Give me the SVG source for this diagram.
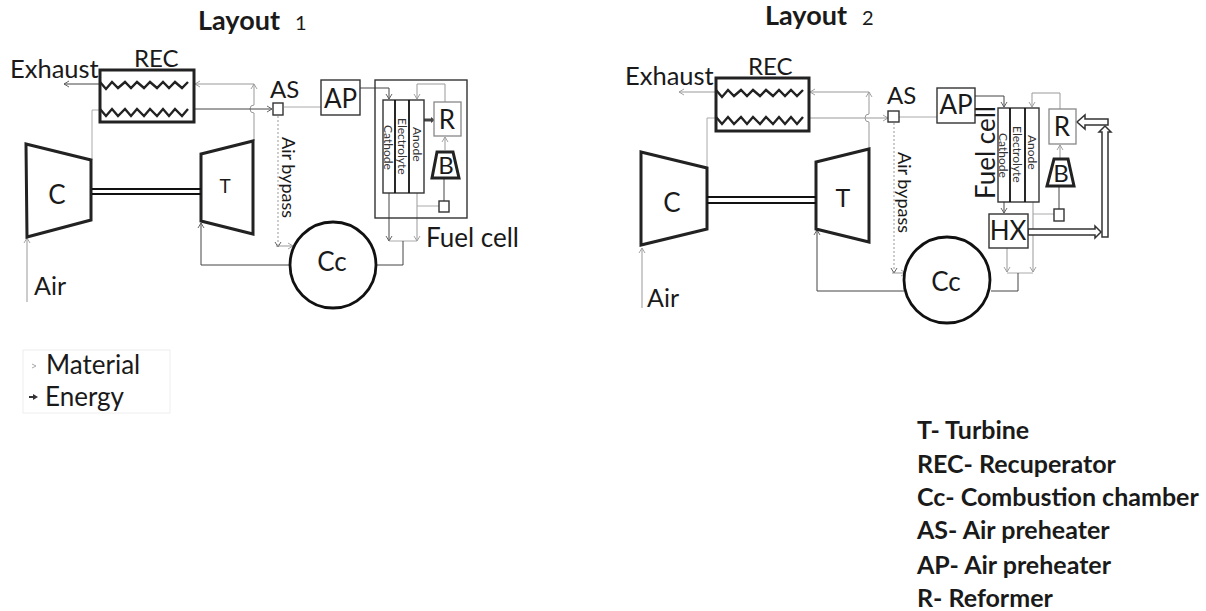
<svg xmlns="http://www.w3.org/2000/svg" width="1206" height="611" viewBox="0 0 1206 611">
<defs>
<marker id="a" markerUnits="userSpaceOnUse" markerWidth="8" markerHeight="8" refX="6" refY="4" orient="auto"><path d="M1 1L6 4L1 7" fill="none" stroke="#555" stroke-width="0.9"/></marker>
<marker id="g" markerUnits="userSpaceOnUse" markerWidth="8" markerHeight="8" refX="6" refY="4" orient="auto"><path d="M1 1L6 4L1 7" fill="none" stroke="#999" stroke-width="0.9"/></marker>
</defs>
<style>
text{font-family:Lato,"Open Sans","Liberation Sans",sans-serif;fill:#1a1a1a}
.b{font-weight:700}
.box{fill:#fff;stroke:#222;stroke-width:3}
.thin{fill:#fff;stroke:#333;stroke-width:1.4}
.lg{fill:#fff;stroke:#888;stroke-width:1.3}
.zig{fill:none;stroke:#222;stroke-width:2.4;stroke-linejoin:miter}
.m{fill:none;stroke:#444;stroke-width:1;marker-end:url(#a)}
.mg{fill:none;stroke:#999;stroke-width:1;marker-end:url(#g)}
.l{fill:none;stroke:#444;stroke-width:1}
.lgl{fill:none;stroke:#aaa;stroke-width:1}
.d{fill:none;stroke:#999;stroke-width:1;stroke-dasharray:2 2;marker-end:url(#a)}
.s{stroke:#111;stroke-width:1.8}
.e{fill:#fff;stroke:#333;stroke-width:1.5}
.ml{font-size:12px;fill:#333}
</style>
<rect width="1206" height="611" fill="#fff"/>

<text class="b" x="198" y="30" font-size="27">Layout</text><text x="295" y="30" font-size="20">1</text>
<text class="b" x="765" y="25" font-size="27">Layout</text><text x="862" y="25" font-size="20">2</text>

<g id="connectors">
<path class="m" d="M100 84H64"/>
<path class="mg" d="M254 84H195"/>
<path class="mg" d="M254 141V113a4 4 0 0 1 0-8V84"/>
<path class="m" d="M194 109H272"/>
<path class="mg" d="M27 302V238"/>
<path class="lgl" d="M92 160V110H100"/>
<path class="d" d="M278 116V247"/>
<path class="mg" d="M276 246H293"/>
<path class="m" d="M290 265H201V223"/>
<path class="lgl" d="M284 107H321"/>
<path class="m" d="M360 88H389V99"/>
<path class="mg" d="M445 102V84H417V99"/>
<path class="mg" d="M445 150V137"/>
<path class="l" d="M444 178V201"/>
<path class="mg" d="M417 193V241"/>
<path class="lgl" d="M417 206H439"/>
<path class="m" d="M389 193V241"/>
<path class="lgl" d="M389 241H417"/>
<path class="l" d="M403 241V265H377"/>
<path d="M424 120H432" stroke="#444" stroke-width="3"/><path d="M431 117L435 120L431 123Z" fill="#444"/>
<path class="mg" d="M716 92H679"/>
<path class="mg" d="M869 92H810"/>
<path class="mg" d="M869 149V122a4 4 0 0 1 0-8V92"/>
<path class="mg" d="M809 118H888"/>
<path class="mg" d="M642 308V248"/>
<path class="lgl" d="M707 168V118H716"/>
<path class="d" d="M894 123V273"/>
<path class="mg" d="M892 273H906"/>
<path class="m" d="M904 291H817V230"/>
<path class="lgl" d="M899 117H937"/>
<path class="m" d="M975 96H1004V107"/>
<path class="mg" d="M1060 109V93H1032V107"/>
<path class="m" d="M1004 202V213"/>
<path class="mg" d="M1033 202V272"/>
<path class="lgl" d="M1033 214H1054"/>
<path class="mg" d="M1007 248V272"/>
<path class="lgl" d="M1007 273H1033"/>
<path class="l" d="M1018 273V291H991"/>
<path class="mg" d="M1060 159V145"/>
<path class="l" d="M1059 186V209"/>
<path class="e" d="M1028 229H1095V226L1101 232L1095 238V235H1028Z"/>
<path class="e" d="M1102 237V132H1099L1105 126L1111 132H1108V237Z"/>
<path class="e" d="M1108 119V125H1085V129L1077 122L1085 115V119Z"/>
</g>

<g id="rec1"><rect class="box" x="100" y="70" width="94" height="52"/>
<path class="zig" d="M100 82l6 7 6-7 6 6 7-6 6 6 6-6 7 6 6-6 7 6 6-6 6 6 6-6 7 6 6-6"/>
<path class="zig" d="M100 109l6 7 6-7 6 7 7-7 6 7 6-7 7 7 6-7 7 7 6-7 6 7 6-7 7 7 6-7"/>
<text x="134" y="67" font-size="24">REC</text></g>
<text x="10" y="78" font-size="25.500">Exhaust</text>
<g id="as1"><rect class="thin" x="273" y="103" width="10" height="12"/><text x="270" y="98" font-size="24">AS</text></g>
<g id="c1"><path class="box" d="M26 144L91 160V220L27 237Z"/><text x="57" y="204" font-size="26" text-anchor="middle">C</text></g>
<g id="t1"><path class="box" d="M201 154L253 141V234L201 221Z"/><text x="225" y="193" font-size="19" text-anchor="middle">T</text></g>
<g id="shaft1"><path class="s" d="M92 189H201M92 194H201"/></g>
<text x="34" y="295" font-size="25">Air</text>
<text x="282" y="137" font-size="18" transform="rotate(90 282 137)">Air bypass</text>
<g id="cc1"><circle cx="333" cy="265" r="43" fill="#fff" stroke="#111" stroke-width="2.8"/><text x="332" y="271" font-size="26" text-anchor="middle">Cc</text></g>
<g id="ap1"><rect class="thin" x="321" y="80" width="39" height="35"/><text x="340.500" y="108" font-size="26" text-anchor="middle">AP</text></g>
<g id="fc1"><rect x="375" y="80" width="92" height="138" fill="none" stroke="#333" stroke-width="1.4"/>
<rect class="thin" x="383" y="100" width="41" height="93"/><path class="s" d="M395 100V193M409 100V193"/>
<text class="ml" x="384" y="125" transform="rotate(90 384 125)">Cathode</text>
<text class="ml" x="398" y="118" transform="rotate(90 398 118)">Electrolyte</text>
<text class="ml" x="413" y="127" transform="rotate(90 413 127)">Anode</text></g>
<text x="426" y="247" font-size="26">Fuel cell</text>
<g id="r1"><rect class="lg" x="434" y="102" width="27" height="34"/><text x="447" y="129" font-size="26" text-anchor="middle">R</text></g>
<g id="b1"><path class="box" d="M437 152H453L459 178H432Z"/><text x="446" y="174" font-size="24" text-anchor="middle">B</text></g>
<g id="sq1"><rect class="thin" x="439" y="201" width="10" height="11"/></g>

<g id="legend"><rect x="23" y="350" width="147" height="63" fill="#fff" stroke="#eee"/>
<path d="M32 364L36 366L32 368" fill="none" stroke="#aaa" stroke-width="1"/><path d="M29 397H34" stroke="#333" stroke-width="2"/><path d="M33 394L38 397L33 400Z" fill="#333"/>
<text x="46" y="374" font-size="26">Material</text><text x="45" y="406" font-size="26">Energy</text></g>

<g id="rec2"><rect class="box" x="716" y="78" width="93" height="53"/>
<path class="zig" d="M716 90l6 7 6-7 6 6 7-6 6 6 6-6 7 6 6-6 7 6 6-6 6 6 6-6 6 6 6-6"/>
<path class="zig" d="M716 117l6 7 6-7 6 7 7-7 6 7 6-7 7 7 6-7 7 7 6-7 6 7 6-7 6 7 6-7"/>
<text x="748" y="75" font-size="24">REC</text></g>
<text x="625" y="85" font-size="25.500">Exhaust</text>
<g id="as2"><rect class="thin" x="888" y="111" width="11" height="11"/><text x="887" y="104" font-size="24">AS</text></g>
<g id="c2"><path class="box" d="M641 152L707 168V229L641 245Z"/><text x="672" y="212" font-size="26" text-anchor="middle">C</text></g>
<g id="t2"><path class="box" d="M816 162L869 149V242L816 229Z"/><text x="843" y="207" font-size="25" text-anchor="middle">T</text></g>
<g id="shaft2"><path class="s" d="M707 197H816M707 203H816"/></g>
<text x="647" y="307" font-size="25">Air</text>
<text x="898" y="152" font-size="18" transform="rotate(90 898 152)">Air bypass</text>
<g id="cc2"><circle cx="947" cy="280" r="43" fill="#fff" stroke="#111" stroke-width="2.8"/><text x="946" y="291" font-size="26" text-anchor="middle">Cc</text></g>
<g id="ap2"><rect class="thin" x="937" y="88" width="38" height="35"/><text x="956" y="114" font-size="26" text-anchor="middle">AP</text></g>
<g id="fc2"><rect class="thin" x="998" y="108" width="41" height="94"/><path class="s" d="M1010 108V202M1025 108V202"/>
<text class="ml" x="999" y="133" transform="rotate(90 999 133)">Cathode</text>
<text class="ml" x="1013" y="126" transform="rotate(90 1013 126)">Electrolyte</text>
<text class="ml" x="1028" y="135" transform="rotate(90 1028 135)">Anode</text>
<text x="995" y="199" font-size="26" transform="rotate(-90 995 199)">Fuel cell</text></g>
<g id="hx"><rect class="thin" x="989" y="214" width="39" height="34"/><text x="1008" y="240" font-size="26" text-anchor="middle">HX</text></g>
<g id="r2"><rect class="lg" x="1049" y="109" width="27" height="35"/><text x="1062" y="136" font-size="26" text-anchor="middle">R</text></g>
<g id="b2"><path class="box" d="M1054 159H1068L1074 186H1047Z"/><text x="1061" y="182" font-size="24" text-anchor="middle">B</text></g>
<g id="sq2"><rect class="thin" x="1054" y="209" width="10" height="12"/></g>

<g id="key">
<text class="b" x="917" y="439" font-size="25">T- Turbine</text>
<text class="b" x="917" y="473" font-size="25">REC- Recuperator</text>
<text class="b" x="917" y="506" font-size="25">Cc- Combustion chamber</text>
<text class="b" x="917" y="539" font-size="25">AS- Air preheater</text>
<text class="b" x="917" y="574" font-size="25">AP- Air preheater</text>
<text class="b" x="917" y="607" font-size="25">R- Reformer</text>
</g>
</svg>
